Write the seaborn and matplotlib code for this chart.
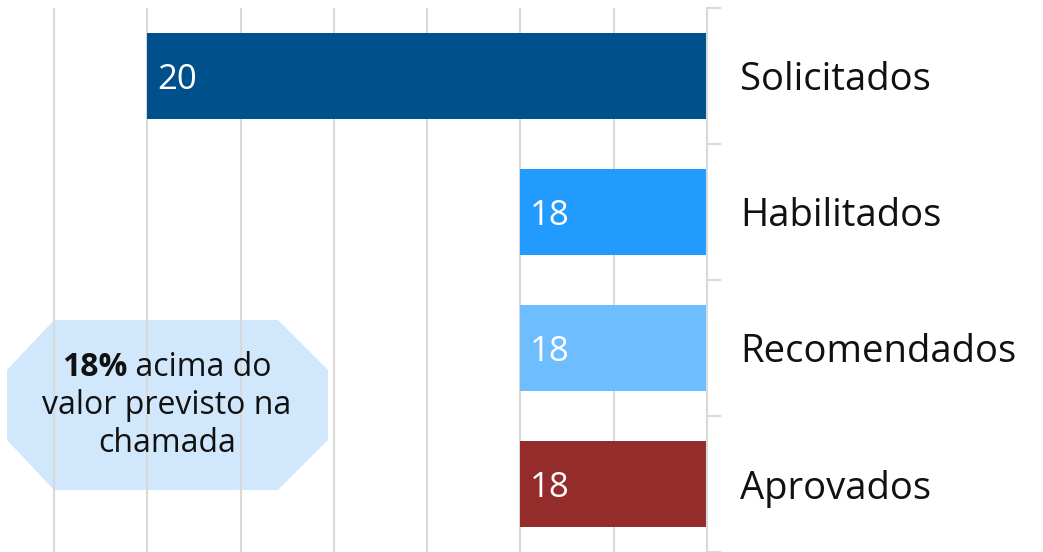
import matplotlib
matplotlib.use("Agg")
import matplotlib.pyplot as plt
import seaborn as sns
from matplotlib.patches import Polygon

# Data
categories = ["Solicitados", "Habilitados", "Recomendados", "Aprovados"]
values = [20, 18, 18, 18]
bar_colors = ["#00508C", "#229BFF", "#6EBEFF", "#952C2C"]

sns.set_theme(style="white")
plt.rcParams["font.family"] = ["Open Sans", "DejaVu Sans"]

fig = plt.figure(figsize=(10.43, 5.52), dpi=100)
W, H = 1043, 552
ax = fig.add_axes([0, 0, 707 / W, 1 - 8 / H])

sns.barplot(x=values, y=categories, hue=categories, palette=bar_colors,
            orient="h", width=0.63, ax=ax, legend=False, saturation=1, linewidth=0)

# axis starts at 17, grows to the left
ax.set_xlim(20.5 + 54 / 186.67, 17)
ax.set_xticks([17 + 0.5 * i for i in range(8)])
ax.set_xticklabels([])
ax.tick_params(axis="x", length=0)
ax.grid(axis="x", color="#d9d9d9", linewidth=1.5)
ax.set_axisbelow(True)

for s in ["top", "left", "bottom"]:
    ax.spines[s].set_visible(False)
ax.spines["right"].set_color("#d9d9d9")
ax.spines["right"].set_linewidth(1.5)

# right-side category labels and band ticks
ax.yaxis.tick_right()
ax.set_yticks(range(len(categories)))
ax.set_yticklabels(categories, fontsize=27.5, color="#111111")
ax.tick_params(axis="y", length=0, pad=24)
ax.set_yticks([i - 0.5 for i in range(len(categories) + 1)], minor=True)
ax.tick_params(axis="y", which="minor", length=10, width=1.5, color="#d9d9d9", right=True)
ax.set_ylim(len(categories) - 0.5, -0.5)
ax.set_ylabel("")
ax.set_xlabel("")

# value labels inside bars, near the bar's far end
for i, v in enumerate(values):
    ax.annotate(str(v), xy=(v, i), xytext=(7, 0), textcoords="offset points",
                ha="left", va="center_baseline", color="white", fontsize=25)

# octagon callout (pixel coords)
pts = [(54, 320), (278, 320), (328, 370), (328, 440), (278, 490), (54, 490), (7, 440), (7, 370)]
pts = [(x / W, 1 - y / H) for x, y in pts]
ax.add_patch(Polygon(pts, closed=True, transform=fig.transFigure, facecolor="#b9dcfb",
                     alpha=0.65, edgecolor="none", zorder=0.3))

cx = 167 / W
fig.canvas.draw()
r = fig.canvas.get_renderer()
fs = 23
t1 = fig.text(0, 0, "18%", fontsize=fs, fontweight="bold", color="#111111", va="center")
t2 = fig.text(0, 0, " acima do", fontsize=fs, color="#111111", va="center")
w1 = t1.get_window_extent(r).width / W
w2 = t2.get_window_extent(r).width / W
x0 = cx - (w1 + w2) / 2
t1.set_position((x0, 1 - 367 / H))
t2.set_position((x0 + w1, 1 - 367 / H))
fig.text(cx, 1 - 406 / H, "valor previsto na", fontsize=fs, color="#111111", ha="center", va="center")
fig.text(cx, 1 - 443 / H, "chamada", fontsize=fs, color="#111111", ha="center", va="center")

fig.savefig("out.png", dpi=100)
